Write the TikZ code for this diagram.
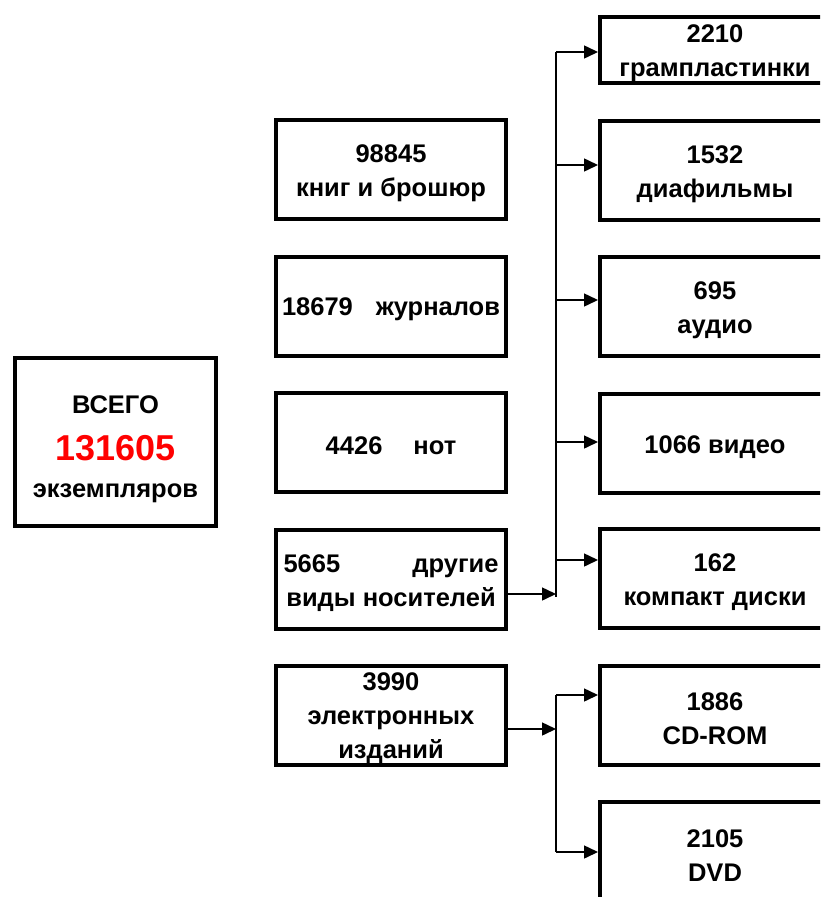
\documentclass[tikz,border=0pt]{standalone}
\usepackage{fontspec}
\setmainfont{Liberation Sans}
\usetikzlibrary{arrows.meta}
\definecolor{numred}{RGB}{255,0,0}
\newcommand\topstrut[1]{\rule{0pt}{#1pt}}
\tikzset{
  box/.style={draw=black, line width=4pt, fill=white, inner sep=0pt, align=center,
    font=\fontsize{25.5}{34}\selectfont\bfseries, text=black},
  midbox/.style={box, minimum width=230pt, minimum height=99pt},
  rbox/.style={midbox},
  conn/.style={line width=1.5pt, draw=black},
  arr/.style={conn, -{Triangle[length=14pt,width=13pt]}}
}
\begin{document}
\begin{tikzpicture}[x=1pt,y=-1pt]
\useasboundingbox (0,0) rectangle (820,897);
\clip (0,0) rectangle (820,897);
\fill[white] (0,0) rectangle (820,897);
% left total box
\node[box, minimum width=201pt, minimum height=168pt] (tot) at (115.5,442)
  {\topstrut{33}ВСЕГО\\[13pt]{\fontsize{36}{40}\selectfont\color{numred}131605}\\[3pt]экземпляров};
% middle column
\node[midbox] (m1) at (391,169.5) {\topstrut{26}98845\\книг и брошюр};
\node[midbox] (m2) at (391,306) {\topstrut{25}\hbox to 218pt{18679\hfill журналов}};
\node[midbox] (m3) at (391,442.5) {\topstrut{25}4426\hspace*{31pt}нот};
\node[midbox] (m4) at (391,579.5) {\topstrut{26}\hbox to 215pt{5665\hfill другие}\\виды носителей};
\node[midbox] (m5) at (391,715) {\topstrut{24}3990\\электронных\\изданий};
% right column
\node[rbox, minimum height=66pt] (r1) at (715,50) {\topstrut{24}2210\\грампластинки};
\node[rbox] (r2) at (715,170) {\topstrut{26}1532\\диафильмы};
\node[rbox] (r3) at (715,306.5) {\topstrut{26}695\\аудио};
\node[rbox] (r4) at (715,443.5) {\topstrut{25}1066 видео};
\node[rbox] (r5) at (715,578.5) {\topstrut{26}162\\компакт диски};
\node[rbox] (r6) at (715,715) {\topstrut{26}1886\\CD-ROM};
\node[rbox] (r7) at (715,851.5) {\topstrut{26}2105\\DVD};
% bus for "other media"
\coordinate (b1) at (556,52);
\coordinate (b2) at (556,165);
\coordinate (b3) at (556,300);
\coordinate (b4) at (556,442);
\coordinate (b5) at (556,560);
\coordinate (bj) at (556,594);
\coordinate (bend) at (556,597);
\draw[conn] (b1) -- (bend);
\draw[arr] (b1) -- (b1 -| r1.west);
\draw[arr] (b2) -- (b2 -| r2.west);
\draw[arr] (b3) -- (b3 -| r3.west);
\draw[arr] (b4) -- (b4 -| r4.west);
\draw[arr] (b5) -- (b5 -| r5.west);
\draw[arr] (bj -| m4.east) -- (bj);
% bus for electronic
\coordinate (e1) at (556,695);
\coordinate (ej) at (556,729);
\coordinate (e2) at (556,852);
\draw[conn] (e1) -- (e2);
\draw[arr] (ej -| m5.east) -- (ej);
\draw[arr] (e1) -- (e1 -| r6.west);
\draw[arr] (e2) -- (e2 -| r7.west);
\end{tikzpicture}
\end{document}
